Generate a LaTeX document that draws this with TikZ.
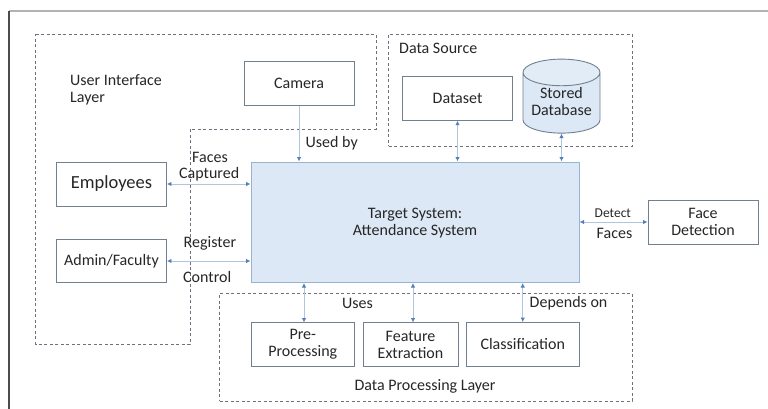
\documentclass[tikz,border=0pt]{standalone}
\usepackage{fontspec}
\setmainfont{Carlito}
\usetikzlibrary{arrows.meta,shapes.geometric,positioning,calc}
\definecolor{boxline}{RGB}{112,128,144}
\definecolor{dashline}{RGB}{105,115,125}
\definecolor{sysfill}{RGB}{220,232,245}
\definecolor{sysline}{RGB}{150,180,210}
\definecolor{dbtop}{RGB}{226,236,247}
\definecolor{linkline}{RGB}{175,198,225}
\definecolor{linktip}{RGB}{85,125,185}
\definecolor{inktext}{RGB}{38,38,38}
\tikzset{
  every node/.style={text=inktext, font=\fontsize{16}{17}\selectfont},
  plainbox/.style={draw=boxline, line width=0.9pt, rectangle, inner sep=0pt, align=center},
  layerbox/.style={draw=dashline, line width=0.9pt, dash pattern=on 3pt off 2.5pt},
  linkboth/.style={draw=linkline, line width=1pt, {Latex[length=4.5pt,width=4.5pt,color=linktip]}-{Latex[length=4.5pt,width=4.5pt,color=linktip]}},
  linkone/.style={draw=linkline, line width=1pt, -{Latex[length=4.5pt,width=4.5pt,color=linktip]}}
}

\begin{document}
\begin{tikzpicture}[x=1pt, y=-1pt]
\useasboundingbox (0,0) rectangle (768,409);

% ----------------------
% Page frame
% ----------------------
\draw[gray!60, line width=1.5pt] (9,11) -- (768,11);
\draw[black!70, line width=1.3pt] (9,409) -- (9,11);

% ----------------------
% Dashed layers
% ----------------------
\draw[layerbox] (35.5,34.5) -- (376,34.5) -- (376,129) -- (190,129)
  -- (190,344) -- (35.5,344) -- cycle;

\node[layerbox, rectangle, minimum width=243.5pt, minimum height=111.5pt] (sourcelayer) at (510.25,90.25) {};
\node[layerbox, rectangle, minimum width=412.5pt, minimum height=108pt] (processlayer) at (425.75,347) {};

% ----------------------
% Main system box
% ----------------------
\node[
  draw=sysline, line width=1pt, rectangle,
  fill=sysfill,
  minimum width=328pt,
  minimum height=120.5pt
] (target) at (415,222.25) {};

\node[align=center, inner sep=0pt] (targetlabel) at (415,223.5)
{Target System:\\Attendance System};

% ----------------------
% Boxes round the system
% ----------------------
\node[plainbox, minimum width=110pt, minimum height=44pt] (camera) at (299,83.5) {Camera};
\node[plainbox, minimum width=110pt, minimum height=44pt, font=\fontsize{18.5}{20}\selectfont] (employees) at (111.5,184) {Employees};
\node[plainbox, minimum width=110pt, minimum height=43pt] (admin) at (111.5,261) {Admin/Faculty};
\node[plainbox, minimum width=110pt, minimum height=44pt] (dataset) at (457.5,98.25) {Dataset};
\node[plainbox, minimum width=110pt, minimum height=44pt] (facedet) at (703,222) {Face\\Detection};
\node[plainbox, minimum width=103.5pt, minimum height=44pt] (preproc) at (302.75,344.5) {Pre-\\Processing};
\node[plainbox, minimum width=95pt, minimum height=44pt] (feature) at (410.5,344.5) {Feature\\Extraction};
\node[plainbox, minimum width=112.5pt, minimum height=44pt] (classify) at (522.75,344.5) {Classification};

\node[
  cylinder, shape border rotate=90, shape aspect=0.44,
  draw=boxline, line width=0.9pt,
  cylinder uses custom fill,
  cylinder body fill=sysfill,
  cylinder end fill=dbtop,
  minimum width=77pt,
  minimum height=74pt,
  inner sep=0pt,
  align=center
] (storeddb) at (561.5,103)
{\raisebox{3pt}{Stored}\\\raisebox{3pt}{Database}};

% ----------------------
% Layer titles
% ----------------------
\node[anchor=north west, align=left, inner sep=0pt] (uilabel) at (70,74) {User Interface\\Layer};
\node[anchor=west, inner sep=0pt] (sourcelabel) at (399,48) {Data Source};
\node[inner sep=0pt] (processlabel) at (425,386.5) {Data Processing Layer};

% ----------------------
% Connector labels
% ----------------------
\node[anchor=west, inner sep=0pt] (usedby) at (305.5,143) {Used by};
\node[anchor=west, inner sep=0pt] (faces) at (192,157.5) {Faces};
\node[anchor=west, inner sep=0pt] (captured) at (179,174.5) {Captured};
\node[anchor=west, inner sep=0pt] (register) at (183.5,243.5) {Register};
\node[anchor=west, inner sep=0pt] (control) at (183,277) {Control};
\node[anchor=west, inner sep=0pt] (uses) at (342,303) {Uses};
\node[anchor=west, inner sep=0pt] (dependson) at (529.5,303) {Depends on};
\node[anchor=west, inner sep=0pt, font=\fontsize{13.5}{15}\selectfont] (detect) at (594.5,213.5) {Detect};
\node[anchor=west, inner sep=0pt] (faceslabel) at (596.5,233.5) {Faces};

% ----------------------
% Connectors
% ----------------------
\coordinate (prelink) at (304,322.5);
\coordinate (featlink) at (413,322.5);

\draw[linkone] (camera.south) -- (camera.south |- target.north);
\draw[linkboth] (employees.east) -- (employees.east -| target.west);
\draw[linkboth] (admin.east) -- (admin.east -| target.west);
\draw[linkboth] (dataset.south) -- (dataset.south |- target.north);
\draw[linkboth] (storeddb.south) -- (storeddb.south |- target.north);
\draw[linkboth] (target.east |- facedet.west) -- (facedet.west);
\draw[linkboth] (prelink) -- (prelink |- target.south);
\draw[linkboth] (featlink) -- (featlink |- target.south);
\draw[linkboth] (classify.north) -- (classify.north |- target.south);

\end{tikzpicture}
\end{document}
